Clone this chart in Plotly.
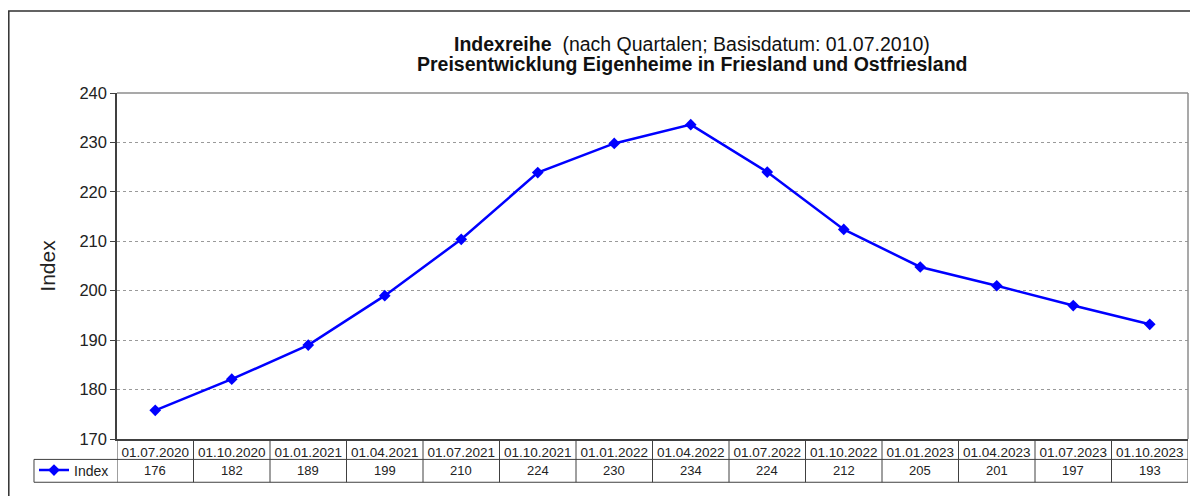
import plotly.graph_objects as go

# Stichtage (Quartale) und Indexwerte, Basis 01.07.2010
stichtage = ['01.07.2020', '01.10.2020', '01.01.2021', '01.04.2021', '01.07.2021',
             '01.10.2021', '01.01.2022', '01.04.2022', '01.07.2022', '01.10.2022',
             '01.01.2023', '01.04.2023', '01.07.2023', '01.10.2023']
index_werte = [175.8, 182.1, 189.0, 199.0, 210.4, 223.9, 229.8, 233.6, 224.0, 212.4,
               204.8, 201.0, 197.0, 193.2]
y_ticks = [170, 180, 190, 200, 210, 220, 230, 240]

BLAU = '#0000FF'
DUNKEL = '#404040'
GRAU = '#8c8c8c'
SCHRIFT = 'Arial, Liberation Sans, sans-serif'

# Seite hat 8px Rand im Browser -> Figur etwas kleiner
BREITE, HOEHE = 1190, 488
M_L, M_R, M_T, M_B = 109, 10, 85, 55
PW = BREITE - M_L - M_R
PH = HOEHE - M_T - M_B

# Tabellenzeilen in Papierkoordinaten (unterhalb der Zeichenfläche)
ZEILE_MITTE = -0.059
WERTE_Y = -0.091
TABELLE_UNTEN = -0.125
LEGENDE_LINKS = -0.0775

fig = go.Figure()
fig.add_trace(go.Scatter(
    x=list(range(len(stichtage))),
    y=index_werte,
    mode='lines+markers',
    name='Index',
    line=dict(color=BLAU, width=2.5),
    marker=dict(symbol='diamond', size=9, color=BLAU),
))

shapes = []
# äußerer Rahmen (nur links und oben sichtbar)
shapes.append(dict(type='rect', xref='paper', yref='paper',
                   x0=(0.8 - M_L) / PW, x1=1.2, y0=-0.5, y1=(M_T - 2.5) / PH + 1,
                   line=dict(color='#303030', width=1.5)))
# Rahmen der Zeichenfläche oben/rechts
shapes.append(dict(type='line', xref='paper', yref='paper', x0=0, x1=1, y0=1, y1=1,
                   line=dict(color=GRAU, width=1.5)))
shapes.append(dict(type='line', xref='paper', yref='paper', x0=1, x1=1, y0=0, y1=1,
                   line=dict(color=GRAU, width=1.5)))
# Datentabelle: senkrechte Linien an den Kategoriegrenzen
for i in range(len(stichtage) + 1):
    shapes.append(dict(type='line', xref='x', yref='paper', x0=i - 0.5, x1=i - 0.5,
                       y0=0, y1=TABELLE_UNTEN, line=dict(color=DUNKEL, width=1)))
# waagerechte Linien und Legendenzelle
shapes.append(dict(type='line', xref='paper', yref='paper', x0=LEGENDE_LINKS, x1=1,
                   y0=ZEILE_MITTE, y1=ZEILE_MITTE, line=dict(color=DUNKEL, width=1)))
shapes.append(dict(type='line', xref='paper', yref='paper', x0=LEGENDE_LINKS, x1=1,
                   y0=TABELLE_UNTEN, y1=TABELLE_UNTEN, line=dict(color=DUNKEL, width=1)))
shapes.append(dict(type='line', xref='paper', yref='paper', x0=LEGENDE_LINKS, x1=LEGENDE_LINKS,
                   y0=ZEILE_MITTE, y1=TABELLE_UNTEN, line=dict(color=DUNKEL, width=1)))

annotations = []
for i, v in enumerate(index_werte):
    annotations.append(dict(x=i, y=WERTE_Y, xref='x', yref='paper', text=f'{v:.0f}',
                            showarrow=False, yanchor='middle',
                            font=dict(family=SCHRIFT, size=13, color='#222222')))
# Titel in zwei Zeilen (enger Zeilenabstand)
annotations.append(dict(
    x=0.537, y=1.143, xref='paper', yref='paper', showarrow=False, yanchor='middle',
    text='<b>Indexreihe</b>  (nach Quartalen; Basisdatum: 01.07.2010)',
    font=dict(family=SCHRIFT, size=19.5, color='#111111')))
annotations.append(dict(
    x=0.537, y=1.083, xref='paper', yref='paper', showarrow=False, yanchor='middle',
    text='<b>Preisentwicklung Eigenheime in Friesland und Ostfriesland</b>',
    font=dict(family=SCHRIFT, size=19.5, color='#111111')))

fig.update_layout(
    width=BREITE, height=HOEHE,
    margin=dict(l=M_L, r=M_R, t=M_T, b=M_B),
    paper_bgcolor='white', plot_bgcolor='white',
    font=dict(family=SCHRIFT, color='#222222'),
    showlegend=True,
    legend=dict(x=LEGENDE_LINKS, y=WERTE_Y, xanchor='left', yanchor='middle',
                bgcolor='rgba(0,0,0,0)', font=dict(family=SCHRIFT, size=14),
                itemwidth=30, borderwidth=0),
    shapes=shapes,
    annotations=annotations,
)
fig.update_xaxes(
    range=[-0.5, len(stichtage) - 0.5],
    tickmode='array', tickvals=list(range(len(stichtage))), ticktext=stichtage,
    tickfont=dict(family=SCHRIFT, size=13.5, color='#222222'),
    ticks='', showgrid=False, zeroline=False,
    showline=True, linecolor=DUNKEL, linewidth=1.5,
)
fig.update_yaxes(
    range=[170, 240], tickvals=y_ticks,
    tickfont=dict(family=SCHRIFT, size=16.5, color='#222222'),
    ticks='outside', ticklen=5, tickcolor=DUNKEL,
    showgrid=True, gridcolor='#9a9a9a', griddash='dot', gridwidth=1,
    zeroline=False, showline=True, linecolor=DUNKEL, linewidth=1.5,
    title=dict(text='Index', font=dict(family=SCHRIFT, size=21, color='#222222'),
               standoff=18),
)

fig.write_html('out.html')
